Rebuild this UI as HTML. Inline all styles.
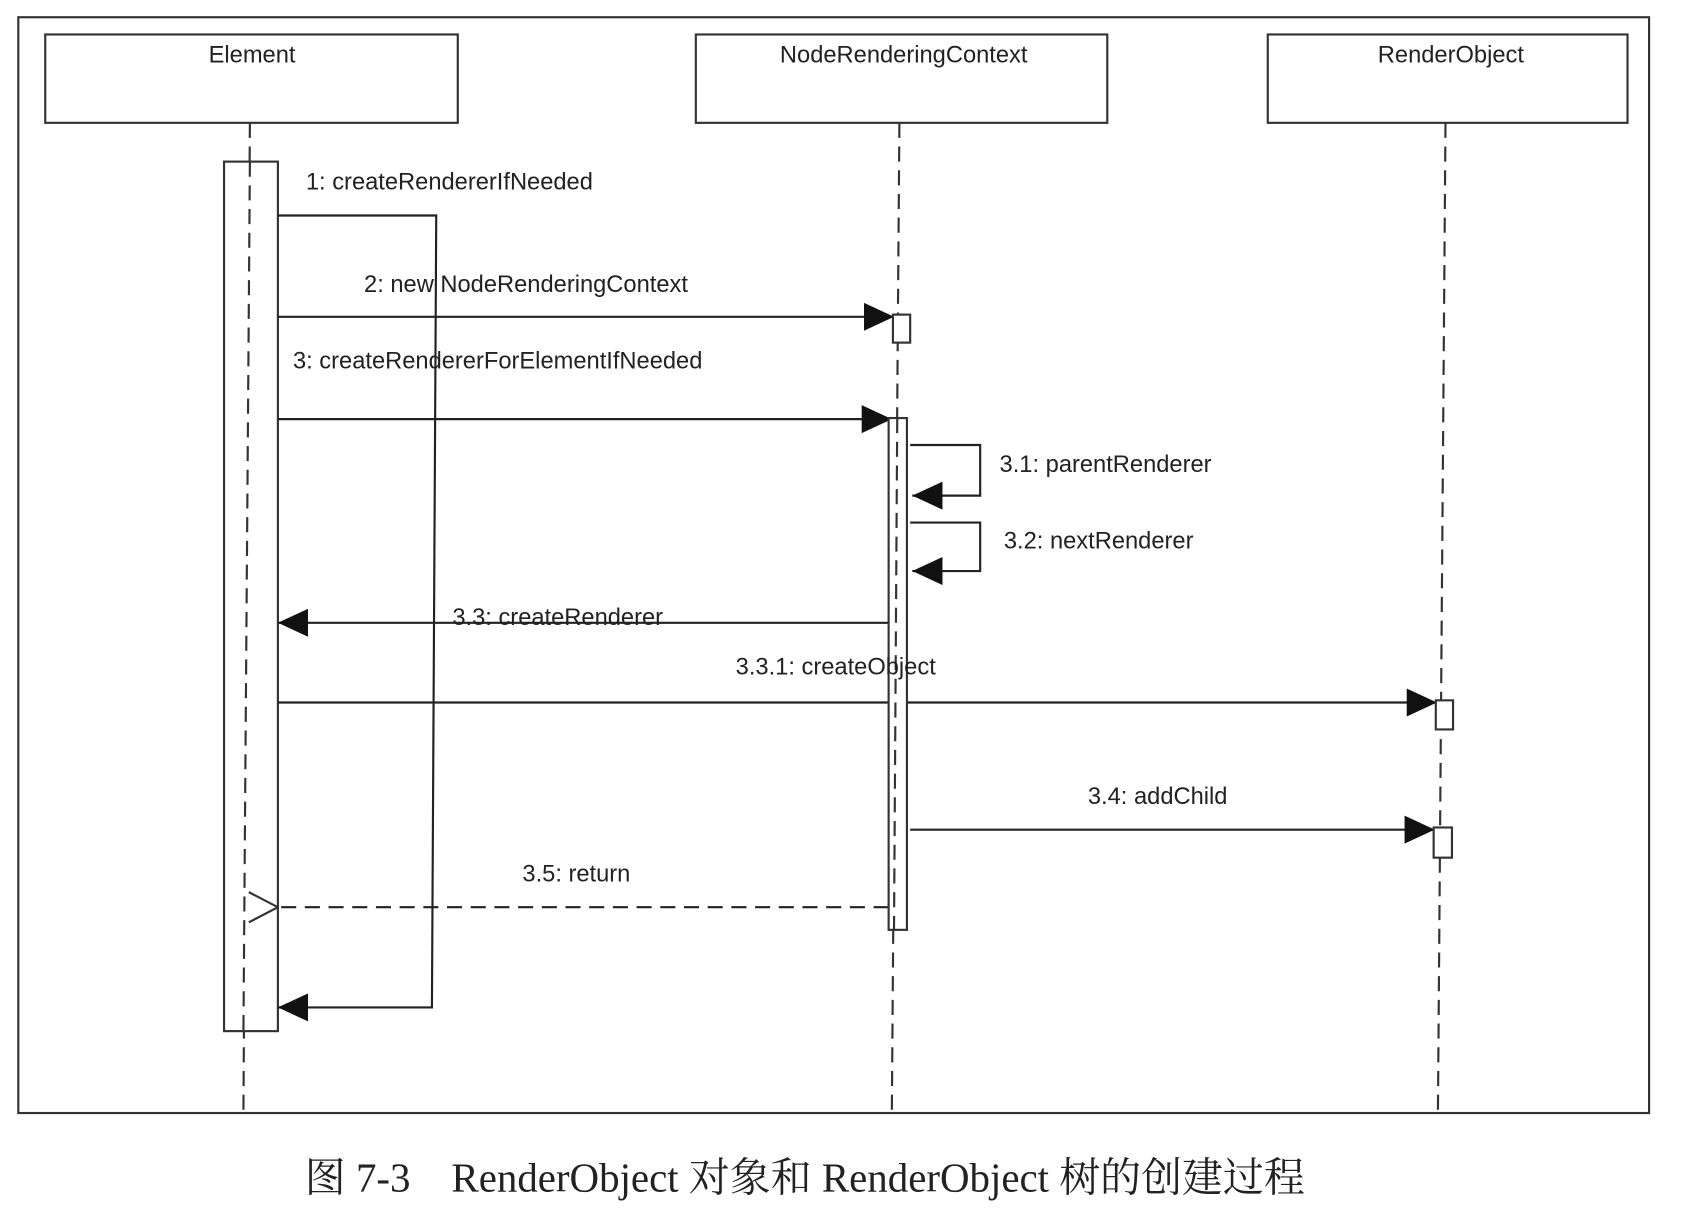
<!DOCTYPE html>
<html><head><meta charset="utf-8"><style>
html,body{margin:0;padding:0;background:#fff;width:1690px;height:1224px;overflow:hidden}
svg{display:block}
text{font-family:"Liberation Sans",sans-serif;font-size:22px;fill:#222}
.cap{font-family:"Liberation Serif","Noto Serif CJK SC",serif;font-size:38px;fill:#222}
</style></head><body>
<svg width="1690" height="1224" viewBox="0 0 1569 1136" preserveAspectRatio="none" xmlns="http://www.w3.org/2000/svg">
<defs>
<marker id="f" markerWidth="30" markerHeight="26" refX="28" refY="13" orient="auto" markerUnits="userSpaceOnUse"><path d="M0,0 L28,13 L0,26 Z" fill="#111"/></marker>
<marker id="o" markerWidth="30" markerHeight="30" refX="1" refY="15" orient="auto" markerUnits="userSpaceOnUse"><path d="M28,1 L1,15 L28,29" fill="none" stroke="#333" stroke-width="2"/></marker>
</defs>
<g fill="none" stroke="#333" stroke-width="2">
<rect x="17" y="16" width="1514" height="1017"/>
<rect x="42" y="32" width="383" height="82"/>
<rect x="646" y="32" width="382" height="82"/>
<rect x="1177" y="32" width="334" height="82"/>
<g stroke-dasharray="14,8">
<line x1="232" y1="114" x2="226" y2="1030"/>
<line x1="835" y1="114" x2="828" y2="1030"/>
<line x1="1342" y1="114" x2="1335" y2="1030"/>
</g>
</g>
<g fill="#fff" stroke="#333" stroke-width="2">
<rect x="208" y="150" width="50" height="807"/>
</g>
<line x1="232" y1="150" x2="226" y2="957" stroke="#333" stroke-width="2" stroke-dasharray="14,8"/>
<g fill="none" stroke="#222" stroke-width="2">
<polyline points="258,200 405,200 401,935 258,935" marker-end="url(#f)"/>
<line x1="258" y1="294" x2="830" y2="294" marker-end="url(#f)"/>
<line x1="258" y1="389" x2="828" y2="389" marker-end="url(#f)"/>
<line x1="826" y1="578" x2="258" y2="578" marker-end="url(#f)"/>
<line x1="258" y1="652" x2="1334" y2="652" marker-end="url(#f)"/>
<line x1="845" y1="770" x2="1332" y2="770" marker-end="url(#f)"/>
<line x1="825" y1="842" x2="258" y2="842" stroke-dasharray="14,8" marker-end="url(#o)"/>
</g>
<g fill="#fff" stroke="#333" stroke-width="2">
<rect x="829" y="292" width="16" height="26"/>
<rect x="825" y="388" width="17" height="475"/>
<rect x="1333" y="650" width="16" height="27"/>
<rect x="1331" y="768" width="17" height="28"/>
</g>
<line x1="833" y1="388" x2="830" y2="863" stroke="#333" stroke-width="2" stroke-dasharray="14,8"/>
<g fill="none" stroke="#222" stroke-width="2">
<polyline points="845,413 910,413 910,460 847,460" marker-end="url(#f)"/>
<polyline points="845,485 910,485 910,530 847,530" marker-end="url(#f)"/>
</g>
<text x="234" y="58" text-anchor="middle">Element</text>
<text x="839" y="58" text-anchor="middle">NodeRenderingContext</text>
<text x="1347" y="58" text-anchor="middle">RenderObject</text>
<text x="284" y="176">1: createRendererIfNeeded</text>
<text x="338" y="271">2: new NodeRenderingContext</text>
<text x="272" y="342">3: createRendererForElementIfNeeded</text>
<text x="928" y="438">3.1: parentRenderer</text>
<text x="932" y="509">3.2: nextRenderer</text>
<text x="420" y="580">3.3: createRenderer</text>
<text x="683" y="626">3.3.1: createObject</text>
<text x="1010" y="746">3.4: addChild</text>
<text x="485" y="818">3.5: return</text>
<text class="cap" x="283" y="1106">图 7-3　RenderObject 对象和 RenderObject 树的创建过程</text>
</svg>
</body></html>
